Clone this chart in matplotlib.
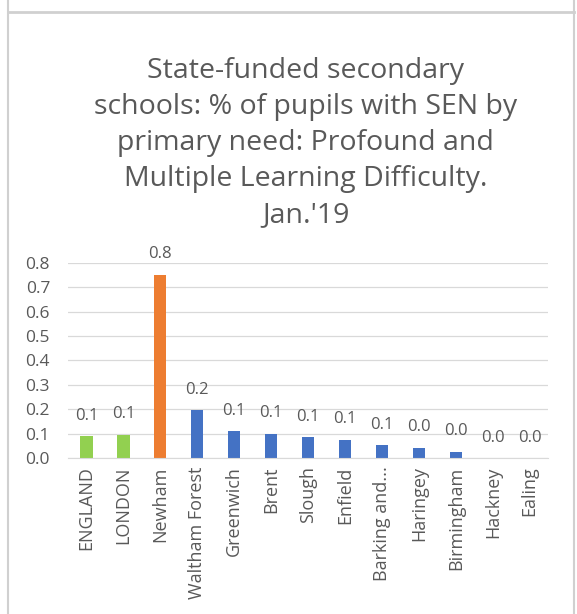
import matplotlib.pyplot as plt
from matplotlib.lines import Line2D

# data
areas = ['ENGLAND', 'LONDON', 'Newham', 'Waltham Forest', 'Greenwich', 'Brent',
         'Slough', 'Enfield', 'Barking and...', 'Haringey', 'Birmingham',
         'Hackney', 'Ealing']
pct = [0.09, 0.095, 0.752, 0.195, 0.11, 0.1, 0.085, 0.075, 0.052, 0.042, 0.025,
       0.0, 0.0]
kind = ['nat', 'nat', 'hi', 'lb', 'lb', 'lb', 'lb', 'lb', 'lb', 'lb', 'lb', 'lb', 'lb']

cols = {'nat': '#92d050', 'hi': '#ed7d31', 'lb': '#4472c4'}
grey = '#595959'
plt.rcParams['font.family'] = ['Open Sans', 'DejaVu Sans']

fig = plt.figure(figsize=(5.77, 6.14), dpi=100)
ax = fig.add_axes([0.118, 0.254, 0.832, 0.318])

x = range(len(areas))
bars = ax.bar(x, pct, width=0.33, color=[cols[k] for k in kind], zorder=2)
for b, v in zip(bars, pct):
    ax.annotate('%.1f' % v, (b.get_x() + b.get_width() / 2, v), xytext=(0, 9),
                textcoords='offset points', ha='center', va='bottom',
                fontsize=12, color=grey)

ax.set_ylim(0, 0.8)
ax.set_xlim(-0.5, len(areas) - 0.5)
ax.set_yticks([i / 10 for i in range(9)])
ax.set_yticklabels(['%.1f' % (i / 10) for i in range(9)])
ax.yaxis.grid(True, color='#d9d9d9', lw=0.9, zorder=0)
ax.set_xticks(list(x))
ax.set_xticklabels(areas, rotation=90, fontsize=13)
ax.tick_params(length=0, colors=grey)
ax.tick_params(axis='y', pad=13, labelsize=12.5)
ax.tick_params(axis='x', pad=6)
for s in ['top', 'right', 'left']:
    ax.spines[s].set_visible(False)
ax.spines['bottom'].set_color('#d9d9d9')

fig.text(0.53, 0.907, "State-funded secondary\nschools: % of pupils with SEN by\n"
         "primary need: Profound and\nMultiple Learning Difficulty.\nJan.'19",
         ha='center', va='top', fontsize=20.5, color=grey, linespacing=1.38)

# chart frame
fig.add_artist(Line2D([8 / 577, 8 / 577], [0, 1], color='#d0d0d0', lw=1.5))
fig.add_artist(Line2D([574 / 577, 574 / 577], [0, 1], color='#d0d0d0', lw=1.5))
fig.add_artist(Line2D([8 / 577, 574 / 577], [1 - 12 / 614, 1 - 12 / 614], color='#d0d0d0', lw=2))

plt.savefig('out.png')
